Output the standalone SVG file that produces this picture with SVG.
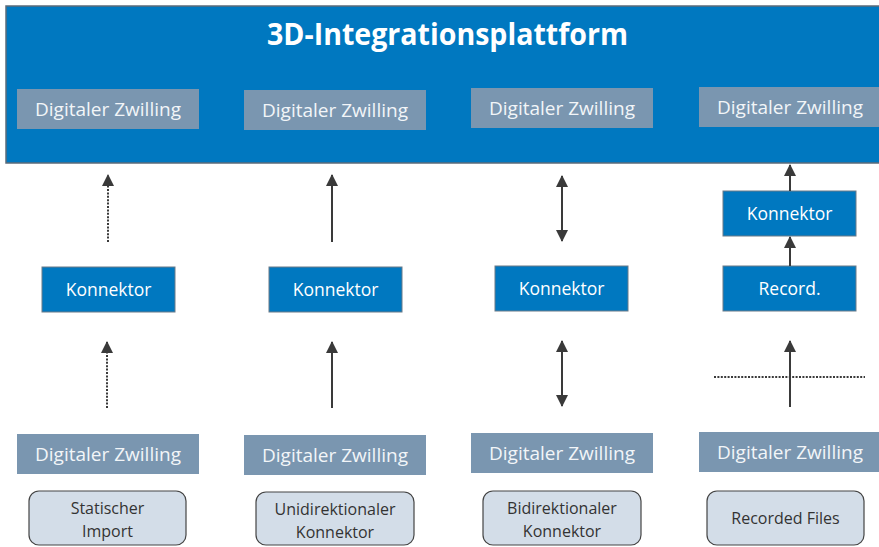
<svg xmlns="http://www.w3.org/2000/svg" width="879" height="547" viewBox="0 0 879 547">
<style>
.panel{fill:#0078C0;stroke:#5B6B7A;stroke-width:1.5}
.dz{fill:#7A96B0}
.dzt{font-family:"Open Sans","Noto Sans",sans-serif;font-size:19px;fill:#F2F5F8;text-anchor:middle}
.kon{fill:#0078C0;stroke:#6A7A88;stroke-width:1}
.kont{font-family:"Open Sans","Noto Sans",sans-serif;font-size:17.5px;fill:#FFFFFF;text-anchor:middle}
.lbl{fill:#D3DDE8;stroke:#444;stroke-width:1.2}
.lblt{font-family:"Open Sans","Noto Sans",sans-serif;font-size:16px;fill:#333;text-anchor:middle}
.title{font-family:"Open Sans","Noto Sans",sans-serif;font-weight:bold;font-size:30px;fill:#FFFFFF;text-anchor:middle}
.ar{stroke:#3A3A3A;stroke-width:2;fill:none}
.dot{stroke-dasharray:2 1.4}
.hl{stroke:#3A3A3A;stroke-width:1.8;stroke-dasharray:2 1.4;fill:none}
</style>
<defs>
<marker id="ah" viewBox="0 0 12 12" markerWidth="12" markerHeight="12" markerUnits="userSpaceOnUse" refX="11" refY="6" orient="auto-start-reverse">
<path d="M0,0 L12,6 L0,12 z" fill="#3A3A3A"/>
</marker>
</defs>
<g id="plattform">
<rect class="panel" x="6" y="6" width="880" height="157"/>
<text class="title" x="447.5" y="45" textLength="361" lengthAdjust="spacingAndGlyphs">3D-Integrationsplattform</text>
</g>
<g id="dz-top-1"><rect class="dz" x="17" y="89" width="182" height="40"/><text class="dzt" x="108" y="116">Digitaler Zwilling</text></g>
<g id="dz-top-2"><rect class="dz" x="244" y="90" width="182" height="40"/><text class="dzt" x="335" y="117">Digitaler Zwilling</text></g>
<g id="dz-top-3"><rect class="dz" x="471" y="88" width="182" height="40"/><text class="dzt" x="562" y="115">Digitaler Zwilling</text></g>
<g id="dz-top-4"><rect class="dz" x="699" y="87" width="182" height="40"/><text class="dzt" x="790" y="114">Digitaler Zwilling</text></g>

<g id="konnektor-1"><rect class="kon" x="42" y="267" width="133" height="45"/><text class="kont" x="108.5" y="296">Konnektor</text></g>
<g id="konnektor-2"><rect class="kon" x="269" y="267" width="133" height="45"/><text class="kont" x="335.5" y="296">Konnektor</text></g>
<g id="konnektor-3"><rect class="kon" x="495" y="266" width="133" height="45"/><text class="kont" x="561.5" y="295">Konnektor</text></g>
<g id="konnektor-4"><rect class="kon" x="723" y="191" width="133" height="45"/><text class="kont" x="789.5" y="220">Konnektor</text></g>
<g id="record"><rect class="kon" x="723" y="266" width="133" height="45"/><text class="kont" x="789.5" y="295">Record.</text></g>

<g id="dz-bottom-1"><rect class="dz" x="17" y="434" width="182" height="40"/><text class="dzt" x="108" y="461">Digitaler Zwilling</text></g>
<g id="dz-bottom-2"><rect class="dz" x="244" y="435" width="182" height="40"/><text class="dzt" x="335" y="462">Digitaler Zwilling</text></g>
<g id="dz-bottom-3"><rect class="dz" x="471" y="433" width="182" height="40"/><text class="dzt" x="562" y="460">Digitaler Zwilling</text></g>
<g id="dz-bottom-4"><rect class="dz" x="699" y="432" width="182" height="40"/><text class="dzt" x="790" y="459">Digitaler Zwilling</text></g>

<g id="label-1"><rect class="lbl" x="29" y="491" width="157" height="54" rx="10"/><text class="lblt" x="107.5" y="514">Statischer</text><text class="lblt" x="107.5" y="537">Import</text></g>
<g id="label-2"><rect class="lbl" x="256" y="492" width="158" height="53" rx="10"/><text class="lblt" x="335" y="515">Unidirektionaler</text><text class="lblt" x="335" y="538">Konnektor</text></g>
<g id="label-3"><rect class="lbl" x="483" y="491" width="158" height="54" rx="10"/><text class="lblt" x="562" y="514">Bidirektionaler</text><text class="lblt" x="562" y="537">Konnektor</text></g>
<g id="label-4"><rect class="lbl" x="707" y="491" width="157" height="54" rx="10"/><text class="lblt" x="785.5" y="524">Recorded Files</text></g>

<g id="connectors">
<line class="ar dot" x1="108" y1="242" x2="108" y2="175" marker-end="url(#ah)"/>
<line class="ar dot" x1="107" y1="408" x2="107" y2="342" marker-end="url(#ah)"/>
<line class="ar" x1="332" y1="242" x2="332" y2="175" marker-end="url(#ah)"/>
<line class="ar" x1="332" y1="408" x2="332" y2="342" marker-end="url(#ah)"/>
<line class="ar" x1="562" y1="241" x2="562" y2="176" marker-start="url(#ah)" marker-end="url(#ah)"/>
<line class="ar" x1="562" y1="406" x2="562" y2="341" marker-start="url(#ah)" marker-end="url(#ah)"/>
<line class="ar" x1="790" y1="191" x2="790" y2="165" marker-end="url(#ah)"/>
<line class="ar" x1="790" y1="266" x2="790" y2="237" marker-end="url(#ah)"/>
<line class="ar" x1="790" y1="407" x2="790" y2="341" marker-end="url(#ah)"/>
<line class="hl" x1="714" y1="377" x2="865" y2="377"/>
</g>
</svg>
